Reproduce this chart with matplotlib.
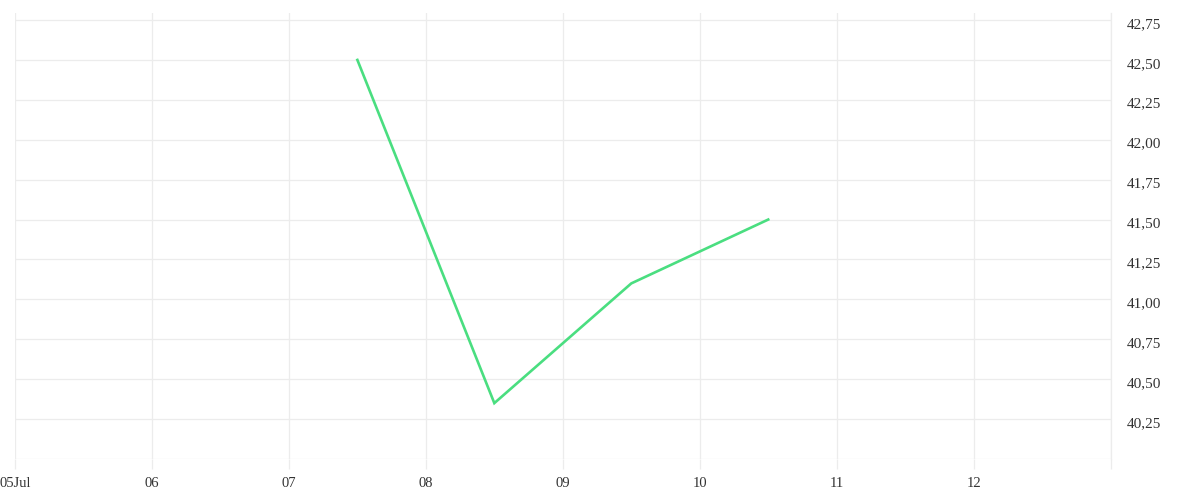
import numpy as np
import matplotlib.pyplot as plt
import matplotlib.dates as mdates
import matplotlib.transforms as mtransforms
from matplotlib.ticker import FuncFormatter, FixedLocator
from datetime import datetime

# Data
dates = [datetime(2024, 7, 7, 12), datetime(2024, 7, 8, 12),
         datetime(2024, 7, 9, 12), datetime(2024, 7, 10, 12)]
values = [42.50, 40.35, 41.10, 41.50]

y_ticks = [40.00, 40.25, 40.50, 40.75, 41.00, 41.25, 41.50, 41.75, 42.00, 42.25, 42.50, 42.75]
x_ticks = [datetime(2024, 7, d) for d in range(5, 14)]
x_labels = ["05Jul", "06", "07", "08", "09", "10", "11", "12", ""]

grid_col = "#ececec"
line_col = "#4ade80"

plt.rcParams['font.family'] = ['Liberation Serif', 'DejaVu Serif']

fig = plt.figure(figsize=(12, 5), dpi=100)
ax = fig.add_axes([0.0125, 0.082, 0.913, 0.892])

ax.plot(dates, values, color=line_col, linewidth=1.9, solid_joinstyle='miter')

ax.set_xlim(x_ticks[0], x_ticks[-1])
ax.set_ylim(40.0, 42.794)

ax.xaxis.set_major_locator(FixedLocator(mdates.date2num(x_ticks)))
ax.set_xticklabels(x_labels)
ax.yaxis.set_major_locator(FixedLocator(y_ticks))
ax.yaxis.set_major_formatter(FuncFormatter(
    lambda v, p: "" if abs(v - 40.0) < 1e-6 else f"{v:.2f}".replace(".", ",")))
ax.yaxis.tick_right()

ax.grid(True, color=grid_col, linewidth=0.9)
ax.set_axisbelow(True)
# the last day's grid line sits on the axes edge; draw it so it isn't clipped away
ax.axvline(x_ticks[-1], color=grid_col, linewidth=0.9, clip_on=False, zorder=0.5)
for s in ax.spines.values():
    s.set_visible(False)

ax.tick_params(axis='x', length=7, width=0.9, color=grid_col, pad=6,
               labelsize=10.5, labelcolor="#333333")
ax.tick_params(axis='y', length=0, pad=11.5, labelsize=11, labelcolor="#333333")

# y labels sit a little below their grid lines
shift = mtransforms.ScaledTranslation(0, -2 / 72, fig.dpi_scale_trans)
for lbl in ax.get_yticklabels():
    lbl.set_transform(lbl.get_transform() + shift)

fig.savefig("out.png", dpi=100)
